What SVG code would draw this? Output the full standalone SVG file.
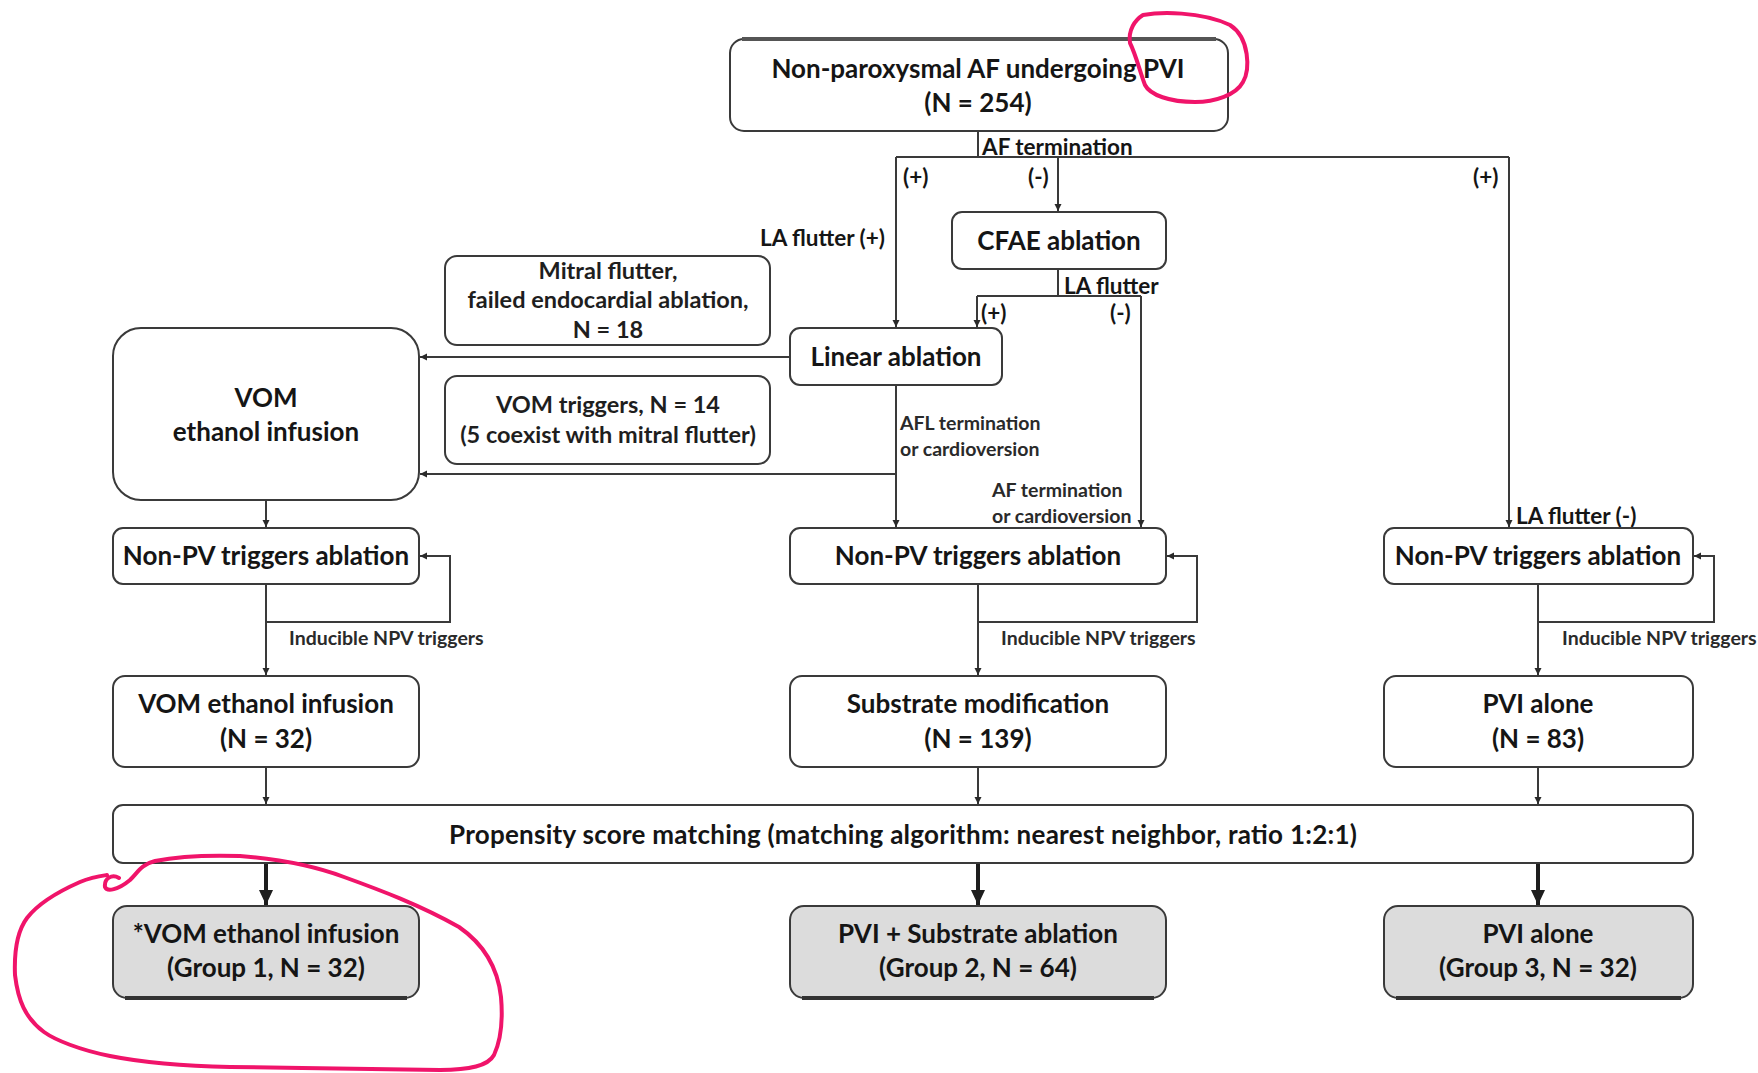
<svg xmlns="http://www.w3.org/2000/svg" width="1758" height="1073" viewBox="0 0 1758 1073">
<defs>
<style>
.box{fill:#fff;stroke:#3a3a3a;stroke-width:2}
.grp{fill:#dcdcdc;stroke:#3a3a3a;stroke-width:2}
.t{font-family:Lato,"Liberation Sans",sans-serif;font-weight:700;font-size:26px;fill:#151515;text-anchor:middle}
.m{font-family:Lato,"Liberation Sans",sans-serif;font-weight:700;font-size:23.5px;fill:#1e1e1e;text-anchor:middle}
.l{font-family:Lato,"Liberation Sans",sans-serif;font-weight:700;font-size:22.5px;fill:#151515}
.s{font-family:Lato,"Liberation Sans",sans-serif;font-weight:700;font-size:19.5px;fill:#2a2a2a}
.c{fill:none;stroke:#3a3a3a;stroke-width:2}
.cb{fill:none;stroke:#1e1e1e;stroke-width:4}
.pink{fill:none;stroke:#f0146a;stroke-width:4;stroke-linecap:round;stroke-linejoin:round}
</style>
<marker id="a" markerUnits="userSpaceOnUse" markerWidth="8" markerHeight="8" refX="7" refY="4" orient="auto">
<path d="M0,0.5 L7,4 L0,7.5 z" fill="#2a2a2a"/>
</marker>
<marker id="ab" markerUnits="userSpaceOnUse" markerWidth="16" markerHeight="16" refX="15" refY="8" orient="auto">
<path d="M0,1 L15,8 L0,15 z" fill="#1e1e1e"/>
</marker>
</defs>
<rect width="1758" height="1073" fill="#fff"/>

<g id="connectors">
<path class="c" d="M978,131 V157"/>
<path class="c" d="M896,157 H1509"/>
<path class="c" d="M896,157 V327" marker-end="url(#a)"/>
<path class="c" d="M1058,157 V211" marker-end="url(#a)"/>
<path class="c" d="M1509,157 V527" marker-end="url(#a)"/>
<path class="c" d="M1058,269 V296"/>
<path class="c" d="M977,296 H1141"/>
<path class="c" d="M977,296 V327" marker-end="url(#a)"/>
<path class="c" d="M1141,296 V527" marker-end="url(#a)"/>
<path class="c" d="M790,357 H420" marker-end="url(#a)"/>
<path class="c" d="M896,385 V527" marker-end="url(#a)"/>
<path class="c" d="M896,474 H420" marker-end="url(#a)"/>
<path class="c" d="M266,500 V527" marker-end="url(#a)"/>
<path class="c" d="M266,584 V675" marker-end="url(#a)"/>
<path class="c" d="M266,622 H450 V556 H420" marker-end="url(#a)"/>
<path class="c" d="M978,584 V675" marker-end="url(#a)"/>
<path class="c" d="M978,622 H1197 V556 H1167" marker-end="url(#a)"/>
<path class="c" d="M1538,584 V675" marker-end="url(#a)"/>
<path class="c" d="M1538,622 H1714 V556 H1694" marker-end="url(#a)"/>
<path class="c" d="M266,767 V804" marker-end="url(#a)"/>
<path class="c" d="M978,767 V804" marker-end="url(#a)"/>
<path class="c" d="M1538,767 V804" marker-end="url(#a)"/>
<path class="cb" d="M266,864 V905" marker-end="url(#ab)"/>
<path class="cb" d="M978,864 V905" marker-end="url(#ab)"/>
<path class="cb" d="M1538,864 V905" marker-end="url(#ab)"/>
</g>

<g id="labels">
<text class="l" x="982" y="155">AF termination</text>
<text class="l" x="903" y="185">(+)</text>
<text class="l" x="1028" y="185">(-)</text>
<text class="l" x="1473" y="185">(+)</text>
<text class="l" x="760" y="246" font-size="21.5">LA flutter (+)</text>
<text class="l" x="1064" y="294">LA flutter</text>
<text class="l" x="981" y="321">(+)</text>
<text class="l" x="1110" y="321">(-)</text>
<text class="s" x="900" y="430">AFL termination</text>
<text class="s" x="900" y="456">or cardioversion</text>
<text class="s" x="992" y="497">AF termination</text>
<text class="s" x="992" y="523">or cardioversion</text>
<text class="l" x="1516" y="524" font-size="21.5">LA flutter (-)</text>
<text class="s" x="289" y="645">Inducible NPV triggers</text>
<text class="s" x="1001" y="645">Inducible NPV triggers</text>
<text class="s" x="1562" y="645">Inducible NPV triggers</text>
</g>

<g id="n_top">
<rect class="box" x="730" y="39" width="498" height="92" rx="14"/>
<path d="M742,39 H1216" stroke="#555" stroke-width="4"/>
<text class="t" x="978" y="78">Non-paroxysmal AF undergoing PVI</text>
<text class="t" x="978" y="112">(N = 254)</text>
</g>
<g id="n_cfae">
<rect class="box" x="952" y="212" width="214" height="57" rx="10"/>
<text class="t" x="1059" y="250">CFAE ablation</text>
</g>
<g id="n_mitral">
<rect class="box" x="445" y="256" width="325" height="89" rx="12"/>
<text class="m" x="608" y="279">Mitral flutter,</text>
<text class="m" x="608" y="308">failed endocardial ablation,</text>
<text class="m" x="608" y="338">N = 18</text>
</g>
<g id="n_linear">
<rect class="box" x="790" y="328" width="212" height="57" rx="10"/>
<text class="t" x="896" y="366">Linear ablation</text>
</g>
<g id="n_vomtrig">
<rect class="box" x="445" y="376" width="325" height="88" rx="12"/>
<text class="m" x="608" y="413">VOM triggers, N = 14</text>
<text class="m" x="608" y="443">(5 coexist with mitral flutter)</text>
</g>
<g id="n_vom">
<rect class="box" x="113" y="328" width="306" height="172" rx="28"/>
<text class="t" x="266" y="407">VOM</text>
<text class="t" x="266" y="441">ethanol infusion</text>
</g>
<g id="n_npv1">
<rect class="box" x="113" y="528" width="306" height="56" rx="10"/>
<text class="t" x="266" y="565">Non-PV triggers ablation</text>
</g>
<g id="n_npv2">
<rect class="box" x="790" y="528" width="376" height="56" rx="10"/>
<text class="t" x="978" y="565">Non-PV triggers ablation</text>
</g>
<g id="n_npv3">
<rect class="box" x="1384" y="528" width="309" height="56" rx="10"/>
<text class="t" x="1538" y="565">Non-PV triggers ablation</text>
</g>
<g id="n_vom32">
<rect class="box" x="113" y="676" width="306" height="91" rx="12"/>
<text class="t" x="266" y="713">VOM ethanol infusion</text>
<text class="t" x="266" y="748">(N = 32)</text>
</g>
<g id="n_sub">
<rect class="box" x="790" y="676" width="376" height="91" rx="12"/>
<text class="t" x="978" y="713">Substrate modification</text>
<text class="t" x="978" y="748">(N = 139)</text>
</g>
<g id="n_pvi">
<rect class="box" x="1384" y="676" width="309" height="91" rx="12"/>
<text class="t" x="1538" y="713">PVI alone</text>
<text class="t" x="1538" y="748">(N = 83)</text>
</g>
<g id="n_psm">
<rect class="box" x="113" y="805" width="1580" height="58" rx="10"/>
<text class="t" x="903" y="844" font-size="25" textLength="908" lengthAdjust="spacing">Propensity score matching (matching algorithm: nearest neighbor, ratio 1:2:1)</text>
</g>
<g id="n_g1">
<rect class="grp" x="113" y="906" width="306" height="92" rx="14"/>
<path d="M125,998 H407" stroke="#333" stroke-width="4"/>
<text class="t" x="266" y="943">*VOM ethanol infusion</text>
<text class="t" x="266" y="977">(Group 1, N = 32)</text>
</g>
<g id="n_g2">
<rect class="grp" x="790" y="906" width="376" height="92" rx="14"/>
<path d="M802,998 H1154" stroke="#333" stroke-width="4"/>
<text class="t" x="978" y="943">PVI + Substrate ablation</text>
<text class="t" x="978" y="977">(Group 2, N = 64)</text>
</g>
<g id="n_g3">
<rect class="grp" x="1384" y="906" width="309" height="92" rx="14"/>
<path d="M1396,998 H1681" stroke="#333" stroke-width="4"/>
<text class="t" x="1538" y="943">PVI alone</text>
<text class="t" x="1538" y="977">(Group 3, N = 32)</text>
</g>

<g id="annotations">
<path class="pink" d="M1143,15 C1160,12 1200,11 1230,25 C1250,38 1250,70 1243,82 C1236,95 1215,102 1195,102 C1170,102 1150,95 1145,85 C1140,72 1136,55 1130,43 C1128,30 1135,20 1143,15"/>
<path class="pink" d="M119,878 C112,874 104,878 105,887 C107,892 118,890 130,880 C138,872 142,864 155,861 C180,856 210,855 240,856 C290,860 320,868 344,877 C380,890 420,905 459,927 C485,945 498,970 501,997 C503,1020 501,1040 494,1055 C488,1066 470,1070 440,1070 C380,1069 300,1068 230,1067 C180,1066 140,1062 110,1056 C80,1050 55,1040 44,1032 C25,1018 18,1000 15,975 C14,950 18,930 27,918 C37,905 55,893 80,882 C92,877 100,876 107,875"/>
</g>
</svg>
